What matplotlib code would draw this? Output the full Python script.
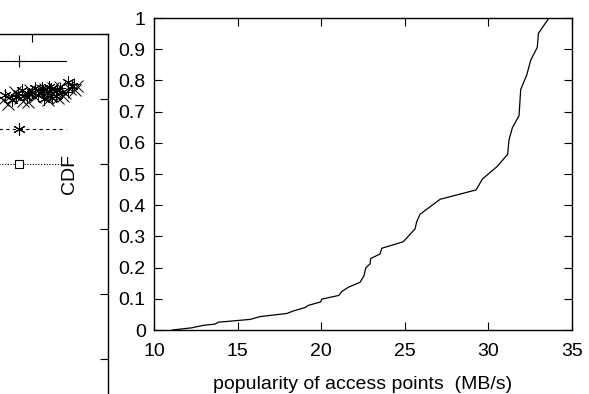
import numpy as np
import matplotlib.pyplot as plt

plt.rcParams["font.family"] = ["Liberation Sans", "DejaVu Sans"]

# main CDF curve: popularity (MB/s) vs cumulative fraction
POP = [11.1, 12.25, 12.95, 13.65, 13.85, 15.74, 16.34, 17.94, 18.33, 19.03,
       19.23, 19.97, 20.03, 21.06, 21.22, 21.62, 22.32, 22.56, 22.66, 22.92,
       22.96, 23.52, 23.62, 24.91, 25.61, 25.71, 25.91, 27.11, 29.26, 29.64,
       30.5, 31.15, 31.23, 31.43, 31.83, 31.93, 32.29, 32.53, 32.92, 32.99, 33.62]
CDF = [0.0, 0.007, 0.015, 0.019, 0.025, 0.034, 0.043, 0.053, 0.061, 0.072,
       0.079, 0.090, 0.099, 0.111, 0.123, 0.137, 0.153, 0.174, 0.199, 0.212,
       0.229, 0.244, 0.262, 0.283, 0.324, 0.347, 0.371, 0.419, 0.449, 0.484,
       0.523, 0.563, 0.609, 0.648, 0.687, 0.771, 0.817, 0.865, 0.906, 0.951, 1.0]

X_TICKS = [10, 15, 20, 25, 30, 35]
Y_TICKS = [0, 0.1, 0.2, 0.3, 0.4, 0.5, 0.6, 0.7, 0.8, 0.9, 1]
Y_LABELS = ["0", "0.1", "0.2", "0.3", "0.4", "0.5", "0.6", "0.7", "0.8", "0.9", "1"]

# neighbouring (cropped) panel on the left: legend samples and a point cloud
KEY_X = [64.2, 76.6, 88.9]
KEY_Y = {"plus": 0.958, "star": 0.854, "box": 0.80}

CLOUD_X_X = [72.4, 74.2, 75.5, 76.9, 78.2, 79.5, 80.8, 82.1, 83.4, 84.8,
             86.1, 87.4, 88.7, 90.0, 91.9, 73.7, 79.0, 84.2, 86.9, 91.3,
             77.6, 81.2, 83.8, 85.6, 88.2]
CLOUD_X_Y = [0.898, 0.905, 0.911, 0.902, 0.908, 0.914, 0.903, 0.909, 0.915, 0.906,
             0.912, 0.918, 0.909, 0.915, 0.920, 0.892, 0.895, 0.898, 0.902, 0.914,
             0.897, 0.912, 0.904, 0.917, 0.905]
CLOUD_S_X = [72.9, 74.7, 76.3, 77.4, 78.7, 80.0, 81.6, 82.6, 84.0, 85.3,
             86.6, 87.9, 89.5, 90.5, 80.8, 83.2, 75.9, 79.3, 82.9, 85.0, 86.3, 84.5]
CLOUD_S_Y = [0.906, 0.898, 0.909, 0.914, 0.903, 0.911, 0.906, 0.917, 0.909, 0.902,
             0.914, 0.911, 0.926, 0.920, 0.917, 0.900, 0.903, 0.907, 0.912, 0.915,
             0.905, 0.918]
CLOUD_P_X = [87.4, 89.5, 91.1]
CLOUD_P_Y = [0.917, 0.911, 0.923]


def main():
    fig = plt.figure(figsize=(5.89, 3.94), dpi=100)

    # left panel, mostly outside the canvas
    ax2 = fig.add_axes([-0.4618, -0.736, 0.6452, 1.6497])
    ax2.patch.set_alpha(0)
    ax2.set_xlim(0, 100)
    ax2.set_ylim(0, 1)
    ax2.set_xticks([20, 40, 60, 80])
    ax2.set_yticks(np.round(np.arange(0, 1.01, 0.1), 1))
    ax2.tick_params(direction="in", length=6, width=0.8, labelleft=False,
                    labelbottom=False, left=False, bottom=False, right=True, top=True)
    for s in ax2.spines.values():
        s.set_linewidth(1.0)
    ax2.plot(KEY_X, [KEY_Y["plus"]] * 3, color="black", lw=0.8, marker="+",
             markevery=[1], ms=9, mew=0.8)
    ax2.plot(KEY_X, [KEY_Y["star"]] * 3, color="black", lw=0.8, ls=(0, (3, 3)),
             marker=(6, 2, 0), markevery=[1], ms=9, mew=0.8)
    ax2.plot(KEY_X, [KEY_Y["box"]] * 3, color="black", lw=0.8, ls=(0, (1, 1.5)),
             marker="s", mfc="white", markevery=[1], ms=5.5, mew=0.8)
    ax2.plot(CLOUD_X_X, CLOUD_X_Y, ls="none", marker="x", color="black", ms=9, mew=0.7)
    ax2.plot(CLOUD_S_X, CLOUD_S_Y, ls="none", marker=(6, 2, 0), color="black", ms=9, mew=0.7)
    ax2.plot(CLOUD_P_X, CLOUD_P_Y, ls="none", marker="+", color="black", ms=9, mew=0.7)

    ax = fig.add_axes([0.2615, 0.1624, 0.7097, 0.7919])
    ax.patch.set_alpha(0)
    ax.plot(POP, CDF, color="black", lw=0.9)
    ax.set_xlim(10, 35)
    ax.set_ylim(0, 1)
    ax.set_xticks(X_TICKS)
    ax.set_yticks(Y_TICKS)
    ax.set_yticklabels(Y_LABELS)
    ax.tick_params(direction="in", length=6, width=0.8, labelsize=14, top=True, right=True)
    ax.tick_params(axis="x", pad=9)
    ax.tick_params(axis="y", pad=6)
    for s in ax.spines.values():
        s.set_linewidth(1.0)
    ax.set_xlabel("popularity of access points  (MB/s)", fontsize=14, labelpad=12)
    ax.set_ylabel("CDF", fontsize=14)
    ax.yaxis.set_label_coords(-0.183, 0.5)

    fig.savefig("out.png", dpi=100)


if __name__ == "__main__":
    main()
